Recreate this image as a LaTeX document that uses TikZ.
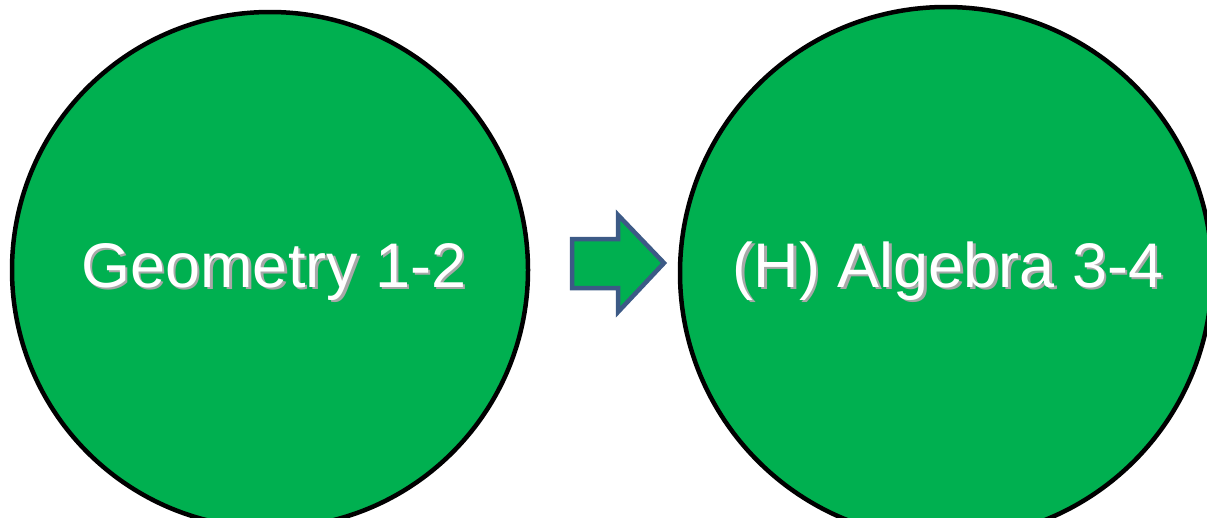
\documentclass[tikz,border=0pt]{standalone}
\usepackage{fontspec}
\setmainfont{Liberation Sans}
\definecolor{cgreen}{HTML}{00B050}
\definecolor{aroutline}{HTML}{3C5A86}
\definecolor{shadowgray}{HTML}{A8A8A8}
\newcommand{\shadowtext}[1]{\makebox[0pt][l]{\hspace{2.5pt}\raisebox{-2.5pt}{\textcolor{shadowgray}{#1}}}\textcolor{white}{#1}}
\begin{document}
\begin{tikzpicture}[x=1pt,y=1pt,
  bubble/.style={circle, fill=cgreen, draw=black, line width=4.5pt, inner sep=0pt},
  label/.style={font=\fontsize{63}{70}\selectfont, anchor=base, inner sep=0pt}]
\useasboundingbox (0,0) rectangle (1207,-517);
\node[bubble, minimum size=516pt] (left) at (270,-270) {};
\node[bubble, minimum size=532pt] (right) at (946,-273) {};
% block arrow
\draw[fill=cgreen, draw=aroutline, line width=4.5pt, line join=miter]
  (572,-239) -- (618,-239) -- (618,-215) -- (664,-263) -- (618,-312) -- (618,-288) -- (572,-288) -- cycle;
% texts with shadow
\node[label] (ltext) at (274,-287) {\shadowtext{Geometry 1-2}};
\node[label] (rtext) at (948,-287) {\shadowtext{(H) Algebra 3-4}};
\end{tikzpicture}
\end{document}
